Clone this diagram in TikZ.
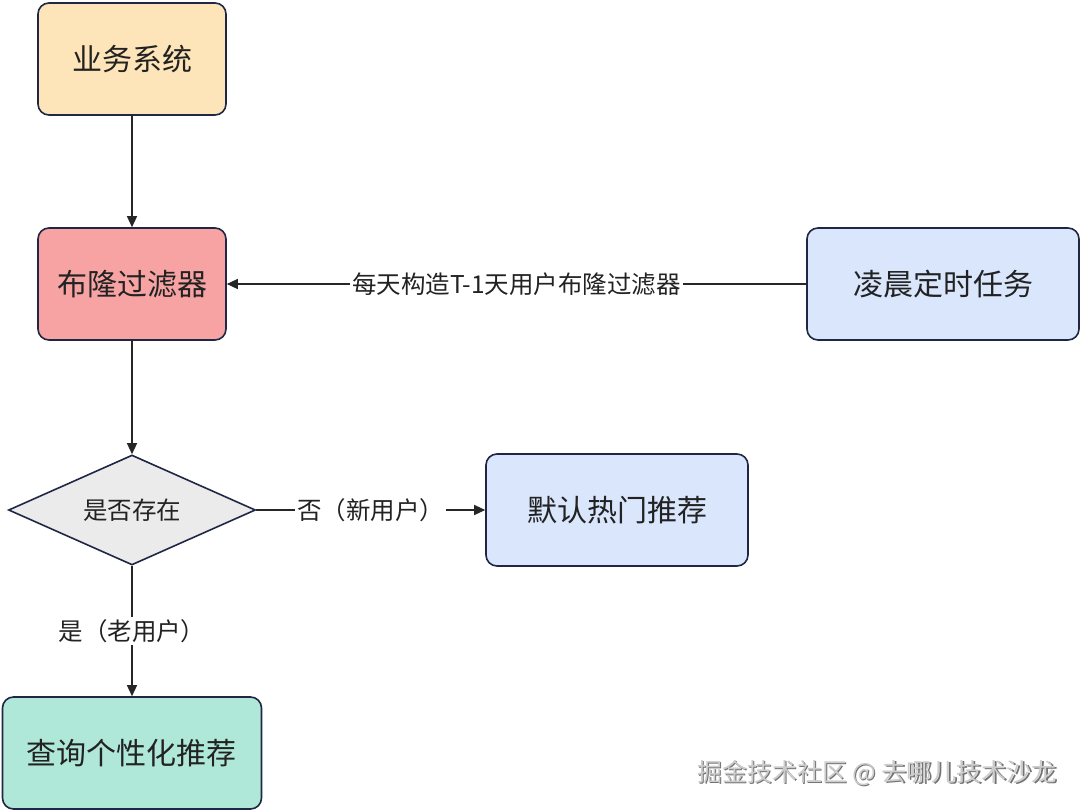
\documentclass[tikz,border=0pt]{standalone}
\usepackage{fontspec}
\setmainfont{Noto Sans CJK SC}
\usetikzlibrary{shapes.geometric,arrows.meta}
\definecolor{bd}{HTML}{1F2745}
\definecolor{cyellow}{HTML}{FDE5B9}
\definecolor{cred}{HTML}{F8A3A3}
\definecolor{cblue}{HTML}{DAE6FC}
\definecolor{cgray}{HTML}{EBEBEB}
\definecolor{cgreen}{HTML}{AFE7D8}
\definecolor{txt}{HTML}{222222}
\tikzset{
  box/.style={draw=bd, line width=1.6pt, rounded corners=11pt, minimum width=#1, minimum height=112pt, inner sep=0pt, font=\fontsize{30}{33}\selectfont, text=txt},
  dia/.style={draw=bd, line width=1.6pt, diamond, aspect=2.25, minimum width=247pt, minimum height=110pt, inner sep=0pt, font=\fontsize{24.5}{27}\selectfont, text=txt},
  conn/.style={draw=black!85, line width=1.3pt, -{Triangle[length=11pt,width=10pt]}},
  lbl/.style={fill=white, inner sep=2pt, font=\fontsize{24.5}{27}\selectfont, text=txt},
  wmk/.style={font=\fontsize{25}{28}\selectfont},
}
\begin{document}
\begin{tikzpicture}[x=1pt,y=-1pt]
\useasboundingbox (0,0) rectangle (1080,811);
\node[box=188pt, fill=cyellow] (sys) at (132,59) {业务系统};
\node[box=188pt, fill=cred] (bloom) at (132,284) {布隆过滤器};
\node[box=272pt, fill=cblue] (job) at (943,284) {凌晨定时任务};
\node[dia, fill=cgray] (exist) at (132,510) {是否存在};
\node[box=262pt, fill=cblue] (hot) at (617,510) {默认热门推荐};
\node[box=259pt, fill=cgreen] (pers) at (132,753) {查询个性化推荐};
\draw[conn] (sys) -- (bloom);
\draw[conn] (job) -- node[lbl] {每天构造T-1天用户布隆过滤器} (bloom);
\draw[conn] (bloom) -- (exist);
\draw[conn] (exist) -- node[lbl] {否（新用户）} (hot);
\draw[conn] (exist) -- node[lbl] {是（老用户）} (pers);
\node[wmk, text=black!55] (wm0) at (878.2,774.2) {掘金技术社区 @ 去哪儿技术沙龙};
\node[wmk, text=black!20] (wm) at (877,773) {掘金技术社区 @ 去哪儿技术沙龙};
\end{tikzpicture}
\end{document}
